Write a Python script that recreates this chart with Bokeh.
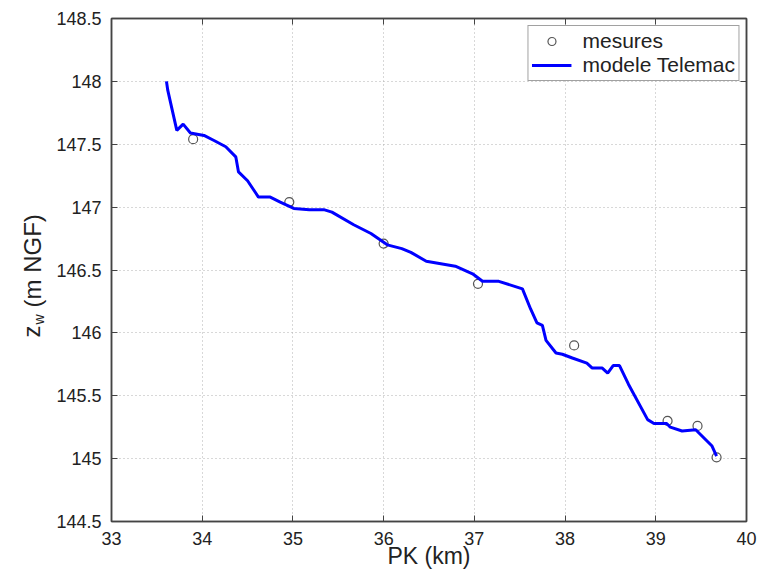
from bokeh.plotting import figure
from bokeh.layouts import row
from bokeh.models import (FixedTicker, LinearAxis, Label, Range1d, Legend, LegendItem)
from bokeh.embed import file_html
from bokeh.resources import INLINE

# measured points
mes_pk = [33.90, 34.96, 36.00, 37.04, 38.10, 39.13, 39.46, 39.67]
mes_z = [147.54, 147.04, 146.71, 146.39, 145.90, 145.30, 145.26, 145.01]

# Telemac model line
mod_pk = [33.606, 33.62, 33.72, 33.79, 33.87, 34.02, 34.13, 34.26, 34.37, 34.40,
          34.50, 34.62, 34.75, 34.86, 35.01, 35.18, 35.34, 35.43, 35.67, 35.86,
          36.04, 36.20, 36.30, 36.47, 36.79, 36.98, 37.09, 37.27, 37.53, 37.62,
          37.69, 37.75, 37.79, 37.90, 37.97, 38.08, 38.24, 38.30, 38.41, 38.47,
          38.53, 38.60, 38.70, 38.91, 38.98, 39.12, 39.16, 39.29, 39.44, 39.62,
          39.67]
mod_z = [148.00, 147.93, 147.61, 147.66, 147.59, 147.57, 147.53, 147.48, 147.40, 147.28,
         147.21, 147.08, 147.08, 147.04, 146.99, 146.98, 146.98, 146.96, 146.86, 146.79,
         146.70, 146.67, 146.64, 146.57, 146.53, 146.47, 146.41, 146.41, 146.35, 146.19,
         146.08, 146.06, 145.94, 145.84, 145.83, 145.80, 145.76, 145.72, 145.72, 145.68,
         145.74, 145.74, 145.59, 145.31, 145.28, 145.28, 145.25, 145.22, 145.23, 145.10,
         145.02]

x_ticks = [33, 34, 35, 36, 37, 38, 39, 40]
y_ticks = [144.5, 145.0, 145.5, 146.0, 146.5, 147.0, 147.5, 148.0, 148.5]
y_tick_labels = ["144.5", "145", "145.5", "146", "146.5", "147", "147.5", "148", "148.5"]

FONT = "Liberation Sans"
TXT = "#222222"
LEFT_W = 50

p = figure(frame_width=635, frame_height=503, output_backend="svg", toolbar_location=None,
           x_range=Range1d(33, 40), y_range=Range1d(144.5, 148.5),
           min_border_left=111 - LEFT_W, min_border_right=14, min_border_top=18,
           min_border_bottom=53, x_axis_location=None, y_axis_location=None)
p.background_fill_color = "white"
p.border_fill_color = "white"
p.outline_line_color = "#444444"
p.outline_line_width = 1.5

xt = FixedTicker(ticks=x_ticks)
yt = FixedTicker(ticks=y_ticks)

def mk_axis(ticker, loc, show_labels):
    ax = LinearAxis(ticker=ticker)
    ax.axis_line_color = "#444444"
    ax.axis_line_width = 1.5
    ax.major_tick_in = 6
    ax.major_tick_out = 0
    ax.major_tick_line_color = "#444444"
    ax.minor_tick_line_color = None
    if show_labels:
        ax.major_label_text_font = FONT
        ax.major_label_text_font_size = "18px"
        ax.major_label_text_color = TXT
        ax.major_label_standoff = 10
    else:
        ax.major_label_text_font_size = "1px"
        ax.major_label_text_color = None
        ax.major_label_standoff = 0
    p.add_layout(ax, loc)
    return ax

ax_b = mk_axis(xt, "below", True)
ax_b.axis_label = "PK (km)"
ax_b.axis_label_text_font = FONT
ax_b.axis_label_text_font_size = "23px"
ax_b.axis_label_text_font_style = "normal"
ax_b.axis_label_text_color = TXT
ax_b.axis_label_standoff = -5
ax_l = mk_axis(yt, "left", True)
ax_l.major_label_overrides = {v: s for v, s in zip(y_ticks, y_tick_labels)}
mk_axis(xt, "above", False)
mk_axis(yt, "right", False)

p.xgrid.ticker = xt
p.ygrid.ticker = yt
for g in (p.xgrid, p.ygrid):
    g.grid_line_color = "#b0b0b0"
    g.grid_line_dash = "1 3"
    g.grid_line_width = 1

r_mes = p.scatter(mes_pk, mes_z, marker="circle", size=9, fill_color=None,
                  line_color="#555555", line_width=1.2)
r_mod = p.line(mod_pk, mod_z, line_color="#0000ff", line_width=3)

legend = Legend(items=[LegendItem(label="mesures", renderers=[r_mes]),
                       LegendItem(label="modele Telemac", renderers=[r_mod])],
                location="top_right")
legend.margin = 7
legend.padding = 3
legend.spacing = 0
legend.glyph_width = 40
legend.glyph_height = 20
legend.label_height = 20
legend.label_standoff = 11
legend.label_text_font = FONT
legend.label_text_font_size = "21px"
legend.label_text_color = TXT
legend.border_line_color = "#444444"
legend.border_line_width = 1
legend.background_fill_alpha = 1
p.add_layout(legend)

# left strip holding the y-axis title (with subscript w)
q = figure(frame_width=LEFT_W, frame_height=574, output_backend="svg", toolbar_location=None,
           x_range=Range1d(0, 1), y_range=Range1d(0, 1), min_border=0, title=None,
           x_axis_location=None, y_axis_location=None)
q.outline_line_color = None
q.grid.visible = False
q.border_fill_color = "white"
q.background_fill_color = "white"
q.add_layout(Label(x=31, y=255, x_units="screen", y_units="screen", text="z",
                   angle=90, angle_units="deg", text_align="left", text_baseline="alphabetic",
                   text_font=FONT, text_font_size="24px", text_color=TXT))
q.add_layout(Label(x=38, y=268, x_units="screen", y_units="screen", text="w",
                   angle=90, angle_units="deg", text_align="left", text_baseline="alphabetic",
                   text_font=FONT, text_font_size="14px", text_color=TXT))
q.add_layout(Label(x=32, y=285, x_units="screen", y_units="screen", text="(m NGF)",
                   angle=90, angle_units="deg", text_align="left", text_baseline="alphabetic",
                   text_font=FONT, text_font_size="24px", text_color=TXT))

layout = row(q, p, spacing=0)
open("out.html", "w").write(file_html(layout, INLINE))
